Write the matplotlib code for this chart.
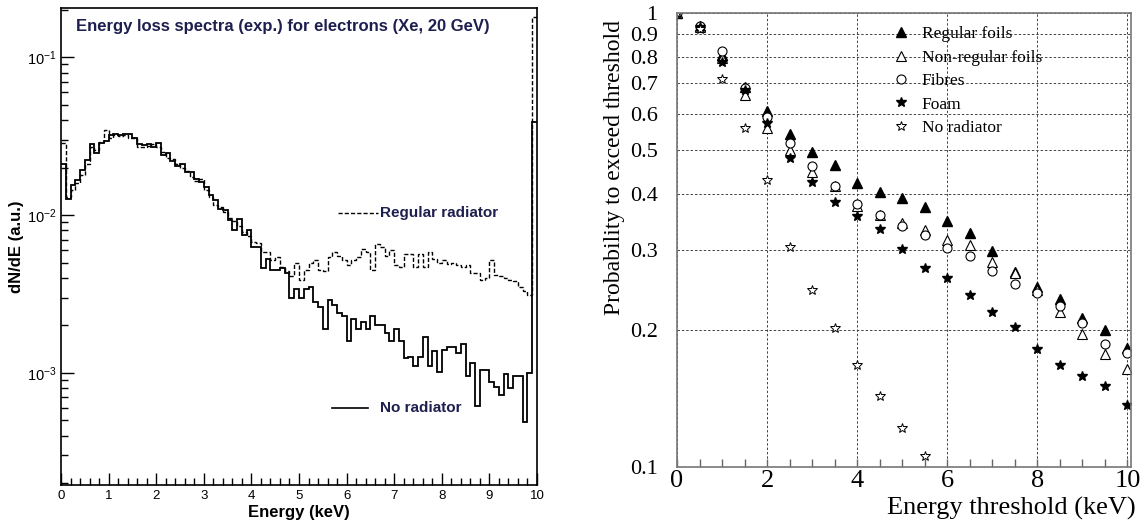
import numpy as np
import matplotlib
matplotlib.use("Agg")
import matplotlib.pyplot as plt
from matplotlib.ticker import MultipleLocator, LogLocator, NullFormatter, FixedLocator

# ---- left panel: energy loss spectra (100 bins, 0-10 keV) ----
e_min, e_max = 0.0, 10.0
no_radiator_hist = [
    0.021, 0.0126, 0.0155, 0.0167, 0.0193, 0.0223, 0.028, 0.0247, 0.0285, 0.0294,
    0.032, 0.0325, 0.032, 0.0325, 0.0325, 0.0307, 0.028, 0.0277, 0.028, 0.027,
    0.0285, 0.024, 0.0247, 0.022, 0.0205, 0.021, 0.0187, 0.0187, 0.017, 0.0162,
    0.015, 0.0134, 0.0124, 0.011, 0.0107, 0.0093, 0.008, 0.0094, 0.0075, 0.008,
    0.0063, 0.0063, 0.0046, 0.0053, 0.0045, 0.0045, 0.0046, 0.0043, 0.0030, 0.0034,
    0.0030, 0.0034, 0.0035, 0.0028, 0.0026, 0.0019, 0.0029, 0.0027, 0.0024, 0.0023,
    0.0016, 0.0022, 0.0019, 0.0021, 0.0019, 0.0023, 0.0020, 0.0020, 0.0018, 0.0016,
    0.0019, 0.0016, 0.00125, 0.00127, 0.0011, 0.00127, 0.0017, 0.0011, 0.00138, 0.00101,
    0.0014, 0.00147, 0.00147, 0.00134, 0.00152, 0.00095, 0.00115, 0.00062, 0.00104, 0.00105,
    0.00088, 0.00082, 0.00073, 0.00099, 0.0008, 0.00095, 0.00096, 0.00049, 0.001, 0.039,
]
regular_radiator_hist = [
    0.0286, 0.013, 0.0145, 0.016, 0.018, 0.021, 0.027, 0.026, 0.029, 0.0345,
    0.031, 0.032, 0.0315, 0.032, 0.031, 0.031, 0.027, 0.027, 0.0275, 0.028,
    0.027, 0.025, 0.023, 0.0225, 0.021, 0.020, 0.019, 0.0175, 0.0165, 0.017,
    0.0145, 0.013, 0.0115, 0.0112, 0.0105, 0.0096, 0.0092, 0.0085, 0.0078, 0.0074,
    0.0068, 0.0067, 0.0058, 0.0058, 0.0052, 0.0054, 0.0047, 0.0044, 0.0041, 0.0050,
    0.0039, 0.0045, 0.0050, 0.0052, 0.0045, 0.0044, 0.0054, 0.0058, 0.0055, 0.0052,
    0.0048, 0.0052, 0.0054, 0.0061, 0.0058, 0.0045, 0.0066, 0.0063, 0.0055, 0.0060,
    0.0048, 0.0047, 0.0057, 0.0057, 0.0047, 0.0057, 0.0047, 0.0058, 0.0053, 0.0050,
    0.0052, 0.0049, 0.0050, 0.0048, 0.0047, 0.0048, 0.0043, 0.0043, 0.0039, 0.0040,
    0.0052, 0.0042, 0.0041, 0.0040, 0.0039, 0.0038, 0.0035, 0.0033, 0.0031, 0.18,
]

# ---- right panel: probability to exceed threshold ----
thr = [0, 0.5, 1, 1.5, 2, 2.5, 3, 3.5, 4, 4.5, 5, 5.5, 6, 6.5, 7, 7.5, 8, 8.5, 9, 9.5, 10]
regular_foils = [1.0, 0.936, 0.808, 0.687, 0.608, 0.541, 0.495, 0.463, 0.422, 0.403, 0.391,
                 0.374, 0.348, 0.328, 0.299, 0.269, 0.249, 0.234, 0.213, 0.200, 0.183]
nonregular_foils = [1.0, 0.93, 0.795, 0.66, 0.557, 0.499, 0.447, 0.416, 0.375, 0.359, 0.345,
                    0.333, 0.316, 0.308, 0.283, 0.268, 0.246, 0.219, 0.196, 0.177, 0.164]
fibres = [1.0, 0.936, 0.826, 0.683, 0.59, 0.517, 0.461, 0.416, 0.379, 0.359, 0.339,
          0.324, 0.303, 0.292, 0.27, 0.253, 0.242, 0.226, 0.208, 0.187, 0.178]
foam = [1.0, 0.93, 0.78, 0.677, 0.572, 0.479, 0.425, 0.383, 0.357, 0.334, 0.302,
        0.275, 0.261, 0.239, 0.219, 0.203, 0.182, 0.168, 0.159, 0.151, 0.137]
thr_norad = [0, 0.5, 1, 1.5, 2, 2.5, 3, 3.5, 4, 4.5, 5, 5.5]
no_radiator = [1.0, 0.922, 0.715, 0.557, 0.429, 0.305, 0.245, 0.202, 0.168, 0.143, 0.122, 0.106]

W, H = 1145, 522
fig = plt.figure(figsize=(W / 100, H / 100), dpi=100)

sans = ["Liberation Sans", "DejaVu Sans"]
serif = ["Liberation Serif", "DejaVu Serif"]
navy = "#1f1f4f"

# left panel
ax1 = fig.add_axes([61 / W, 1 - 485 / H, 476 / W, 477 / H])
edges = np.linspace(e_min, e_max, len(no_radiator_hist) + 1)
ax1.stairs(regular_radiator_hist, edges, baseline=None, color="black", lw=1.0,
           linestyle=(0, (3, 1.5)))
ax1.stairs(no_radiator_hist, edges, baseline=None, color="black", lw=1.3)
ax1.set_yscale("log")
ax1.set_xlim(0, 10)
ax1.set_ylim(1.95e-4, 0.205)
ax1.xaxis.set_major_locator(MultipleLocator(1))
ax1.xaxis.set_minor_locator(MultipleLocator(0.2))
ax1.yaxis.set_major_locator(LogLocator(base=10, numticks=10))
ax1.yaxis.set_minor_locator(LogLocator(base=10, subs=np.arange(2, 10), numticks=10))
ax1.yaxis.set_minor_formatter(NullFormatter())
ax1.tick_params(which="both", direction="in", top=False, right=False)
ax1.tick_params(axis="x", labelsize=9.5)
ax1.tick_params(axis="y", labelsize=10.5)
ax1.tick_params(which="major", length=9, width=1)
ax1.tick_params(which="minor", length=5, width=1)
for lab in ax1.get_xticklabels() + ax1.get_yticklabels():
    lab.set_family(sans)
for sp in ax1.spines.values():
    sp.set_linewidth(1.2)
ax1.set_xlabel("Energy (keV)", fontsize=12, fontweight="bold", family=sans, labelpad=2)
ax1.set_ylabel("dN/dE (a.u.)", fontsize=12, fontweight="bold", family=sans, labelpad=2)
ax1.text(0.466, 0.962, "Energy loss spectra (exp.) for electrons (Xe, 20 GeV)",
         transform=ax1.transAxes, ha="center", va="center", fontsize=12,
         fontweight="bold", color=navy, family=sans)
# in-plot legend
ax1.plot([5.82, 6.65], [0.0103, 0.0103], color="black", lw=1.0, linestyle=(0, (3, 1.5)))
ax1.text(6.7, 0.0103, "Regular radiator", fontsize=11, fontweight="bold", color=navy,
         family=sans, va="center")
ax1.plot([5.7, 6.45], [0.0006, 0.0006], color="black", lw=1.2)
ax1.text(6.7, 0.0006, "No radiator", fontsize=11, fontweight="bold", color=navy,
         family=sans, va="center")

# right panel
ax2 = fig.add_axes([677 / W, 1 - 467 / H, 454 / W, 454 / H])
ax2.set_yscale("log")
ax2.set_xlim(0, 10.08)
ax2.set_ylim(0.1, 1.0)
kw = dict(linestyle="none", color="black", clip_on=True)
ax2.plot(thr, regular_foils, marker="^", ms=7, mfc="black", mec="black", label="Regular foils", **kw)
ax2.plot(thr, nonregular_foils, marker="^", ms=7, mfc="white", mec="black", mew=0.8,
         label="Non-regular foils", **kw)
ax2.plot(thr, fibres, marker="o", ms=6.5, mfc="white", mec="black", mew=0.8, label="Fibres", **kw)
ax2.plot(thr, foam, marker="*", ms=7.5, mfc="black", mec="black", label="Foam", **kw)
ax2.plot(thr_norad, no_radiator, marker="*", ms=7.5, mfc="white", mec="black", mew=0.7,
         label="No radiator", **kw)

ax2.xaxis.set_major_locator(MultipleLocator(2))
ax2.xaxis.set_minor_locator(MultipleLocator(0.5))
yt = [0.1, 0.2, 0.3, 0.4, 0.5, 0.6, 0.7, 0.8, 0.9, 1.0]
ax2.yaxis.set_major_locator(FixedLocator(yt))
ax2.yaxis.set_minor_locator(FixedLocator([]))
ax2.set_yticklabels(["0.1", "0.2", "0.3", "0.4", "0.5", "0.6", "0.7", "0.8", "0.9", "1"])
ax2.grid(True, which="major", color="#444444", lw=0.7, linestyle=(0, (2.5, 2)))
ax2.tick_params(axis="x", which="both", direction="in", length=6, width=1, color="#666666",
                labelsize=19, pad=2)
ax2.tick_params(axis="y", which="both", length=0, labelsize=16, pad=14)
for lab in ax2.get_xticklabels() + ax2.get_yticklabels():
    lab.set_family(serif)
for sp in ax2.spines.values():
    sp.set_color("#777777")
    sp.set_linewidth(1.2)
ax2.set_xlabel("Energy threshold (keV)", fontsize=19, family=serif, loc="right", labelpad=-9)
ax2.xaxis.set_label_coords(1.01, -0.065)
ax2.xaxis.label.set_verticalalignment("top")
ax2.set_ylabel("Probability to exceed threshold", fontsize=17, family=serif, labelpad=4)
ax2.yaxis.set_label_coords(-0.115, 0.66)
ax2.legend(loc="upper left", bbox_to_anchor=(0.445, 1.0), frameon=False,
           prop={"family": serif, "size": 12.5}, handletextpad=0.7, labelspacing=0.42,
           handlelength=1.0, borderaxespad=0.35)

fig.savefig("out.png", dpi=100)
